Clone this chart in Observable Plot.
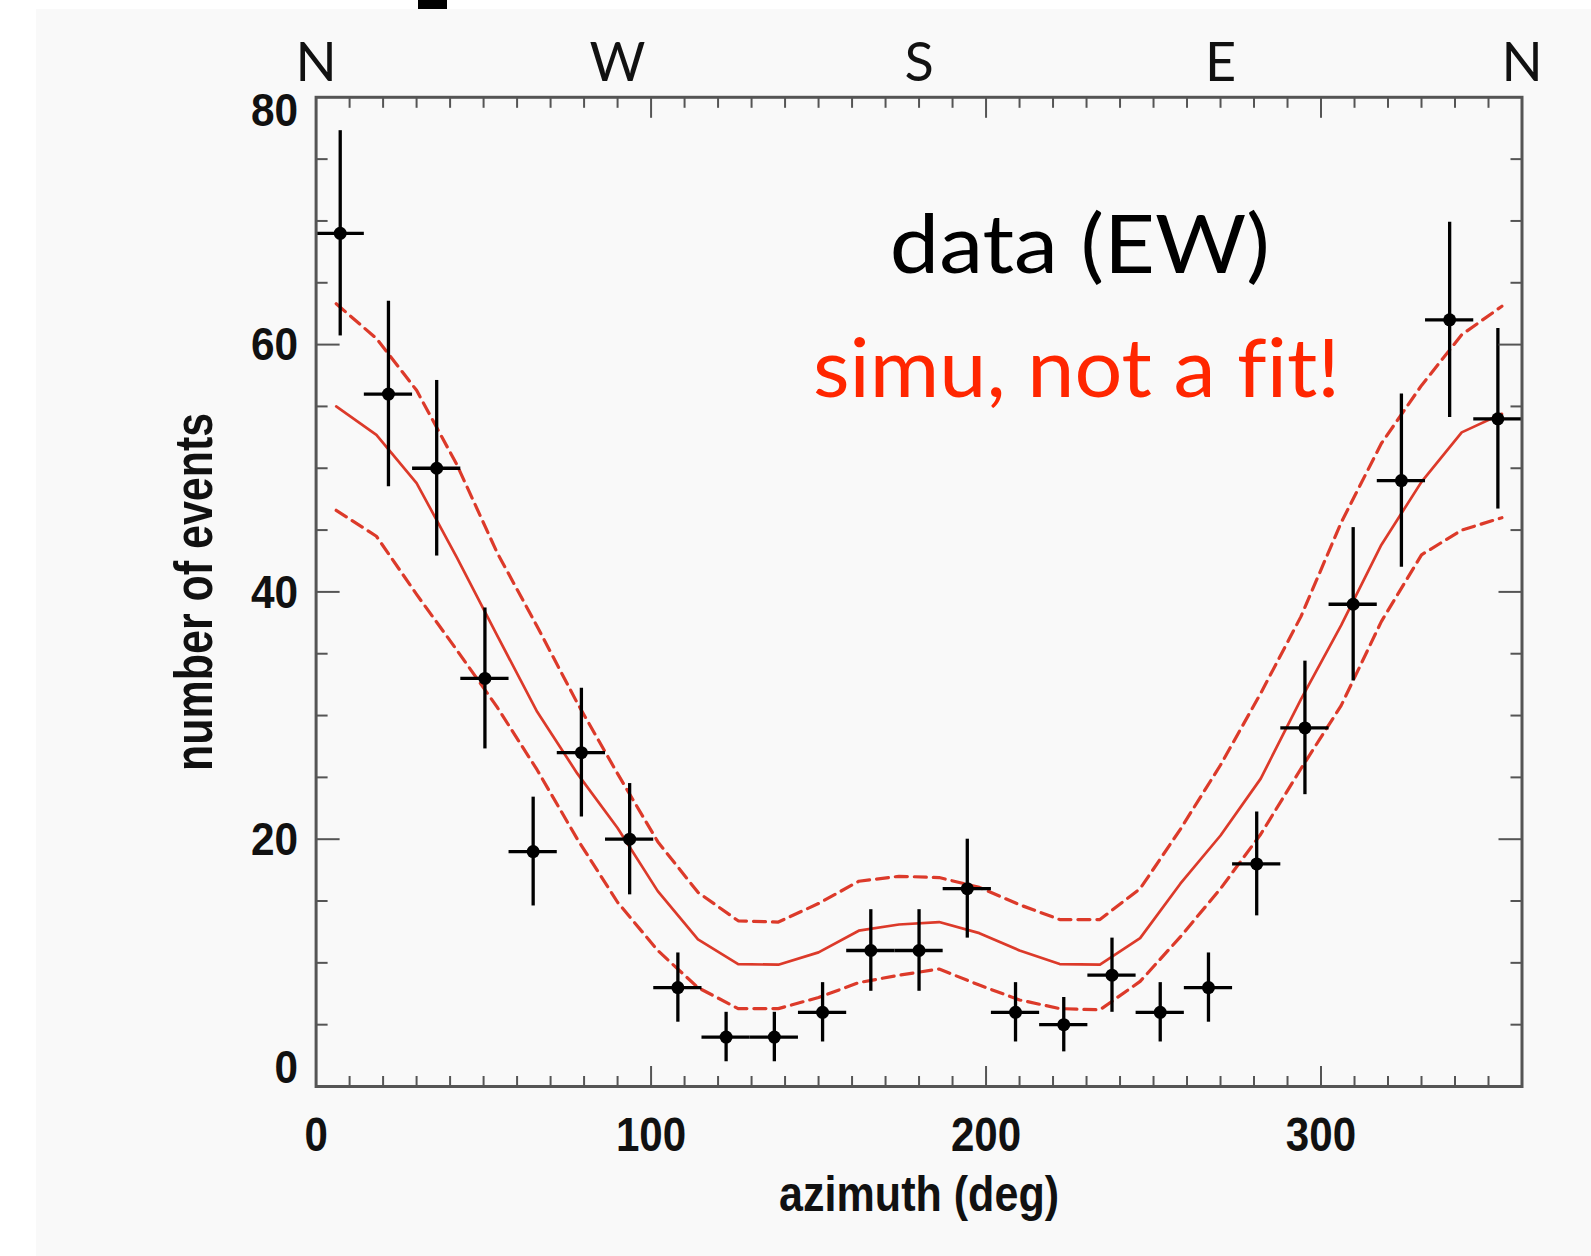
<!DOCTYPE html>
<html>
<head>
<meta charset="utf-8">
<script src="https://cdn.jsdelivr.net/npm/d3@7"></script>
<script src="https://cdn.jsdelivr.net/npm/@observablehq/plot@0.6"></script>
<style>
  html, body { margin: 0; padding: 0; background: #ffffff; }
  #wrap { position: relative; width: 1591px; height: 1256px; overflow: hidden; background: #ffffff; }
  #panel { position: absolute; left: 36px; top: 9px; right: 0; bottom: 0; background: #f9f9f9; }
  #tab { position: absolute; left: 418px; top: 0; width: 29px; height: 9px; background: #000; }
  #chart { position: absolute; left: 0; top: 0; }
  #chart svg text { font-variant-ligatures: none; }
</style>
</head>
<body>
<div id="wrap"><div id="panel"></div><div id="tab"></div><div id="chart"></div></div>
<script>
// ---- measured data (EW) ----
const azimuth = [7.2, 21.6, 36, 50.4, 64.8, 79.2, 93.6, 108, 122.4, 136.8, 151.2, 165.6, 180,
                 194.4, 208.8, 223.2, 237.6, 252, 266.4, 280.8, 295.2, 309.6, 324, 338.4, 352.8];
const events = [69, 56, 50, 33, 19, 27, 20, 8, 4, 4, 6, 11, 11, 16, 6, 5, 9, 6, 8, 18, 29, 39, 49, 62, 54];
const eventErr = [8.3, 7.5, 7.1, 5.7, 4.4, 5.2, 4.5, 2.8, 2.0, 2.0, 2.4, 3.3, 3.3, 4.0, 2.4, 2.2, 3.0,
                  2.4, 2.8, 4.2, 5.4, 6.2, 7.0, 7.9, 7.3];
const binHalfWidth = 7.2;

// ---- simulation (mean and band) ----
const simAzimuth = [6, 18, 30, 42, 54, 66, 78, 90, 102, 114, 126, 138, 150, 162, 174, 186, 198, 210,
                    222, 234, 246, 258, 270, 282, 294, 306, 318, 330, 342, 354];
const simMean = [55.0, 52.7, 48.8, 42.8, 36.5, 30.3, 25.3, 20.9, 15.8, 11.9, 9.9, 9.85, 10.85, 12.6, 13.1,
                 13.3, 12.4, 11.0, 9.9, 9.85, 12.0, 16.4, 20.3, 24.9, 31.3, 37.3, 43.8, 48.9, 52.9, 54.4];
const simUpper = [63.3, 60.5, 56.3, 50.3, 43.2, 37.2, 31.0, 25.3, 19.8, 15.7, 13.4, 13.3, 14.8, 16.6, 17.0,
                  16.9, 16.1, 14.7, 13.5, 13.5, 16.0, 20.8, 26.0, 31.8, 38.0, 45.6, 52.0, 56.7, 60.8, 63.1];
const simLower = [46.6, 44.5, 39.8, 35.3, 30.7, 25.6, 20.0, 14.9, 11.0, 8.0, 6.3, 6.3, 7.2, 8.4, 9.0,
                  9.5, 8.2, 7.0, 6.3, 6.2, 8.5, 12.1, 16.0, 20.4, 25.7, 30.8, 37.6, 43.0, 45.0, 46.0];

// ---- ticks and labels ----
const xMinorTicks = [10, 20, 30, 40, 50, 60, 70, 80, 90, 110, 120, 130, 140, 150, 160, 170, 180, 190,
                     210, 220, 230, 240, 250, 260, 270, 280, 290, 310, 320, 330, 340, 350];
const xMajorTicks = [100, 200, 300];
const xTickLabels = [0, 100, 200, 300];
const yMinorTicks = [5, 10, 15, 25, 30, 35, 45, 50, 55, 65, 70, 75];
const yMajorTicks = [20, 40, 60];
const compassAzimuth = [0, 90, 180, 270, 360];
const compassLabels = ["N", "W", "S", "E", "N"];
const xTitle = "azimuth (deg)";
const yTitle = "number of events";
const annotations = [
  {label: "data (EW)", x: 228, y: 67.9},
  {label: "simu, not a fit!", x: 227, y: 57.9}
];

const points = azimuth.map((x, i) => ({x, y: events[i], err: eventErr[i]}));
const sim = simAzimuth.map((x, i) => ({x, mean: simMean[i], upper: simUpper[i], lower: simLower[i]}));
const compassMap = new Map(compassAzimuth.map((d, i) => [d, compassLabels[i]]));

const numFont = "'Liberation Sans', Arial, sans-serif";
const humanist = "Lato, 'Open Sans', sans-serif";
const axisGray = "#555555";
const red = "#dc3a2a";
const tickOpts = {stroke: axisGray, strokeWidth: 2, tickFormat: () => "", label: null};
const labelOpts = {tickSize: 0, fontFamily: numFont, fontWeight: "bold", fill: "#111111", label: null};

const chart = Plot.plot({
  width: 1591,
  height: 1256,
  marginLeft: 315.6,
  marginRight: 69.5,
  marginTop: 96.8,
  marginBottom: 170,
  x: {domain: [0, 360]},
  y: {domain: [0, 80]},
  style: {background: "transparent", overflow: "visible"},
  marks: [
    // simulation curves
    Plot.line(sim, {x: "x", y: "upper", stroke: red, strokeWidth: 3.2, strokeDasharray: "12,7"}),
    Plot.line(sim, {x: "x", y: "lower", stroke: red, strokeWidth: 3.2, strokeDasharray: "12,7"}),
    Plot.line(sim, {x: "x", y: "mean", stroke: red, strokeWidth: 2.7}),
    // data with error bars
    Plot.ruleX(points, {x: "x", y1: d => d.y - d.err, y2: d => d.y + d.err, stroke: "#000", strokeWidth: 3.3}),
    Plot.ruleY(points, {y: "y", x1: d => d.x - binHalfWidth, x2: d => d.x + binHalfWidth, stroke: "#000", strokeWidth: 3.3}),
    Plot.dot(points, {x: "x", y: "y", r: 6.5, fill: "#000"}),
    // inward ticks on all four sides
    Plot.axisX({ticks: xMinorTicks, anchor: "bottom", tickSize: 10, dy: -10, ...tickOpts}),
    Plot.axisX({ticks: xMajorTicks, anchor: "bottom", tickSize: 20, dy: -20, ...tickOpts}),
    Plot.axisX({ticks: xMinorTicks, anchor: "top", tickSize: 10, dy: 10, ...tickOpts}),
    Plot.axisX({ticks: xMajorTicks, anchor: "top", tickSize: 20, dy: 20, ...tickOpts}),
    Plot.axisY({ticks: yMinorTicks, anchor: "left", tickSize: 12, dx: 12, ...tickOpts}),
    Plot.axisY({ticks: yMajorTicks, anchor: "left", tickSize: 24, dx: 24, ...tickOpts}),
    Plot.axisY({ticks: yMinorTicks, anchor: "right", tickSize: 12, dx: -12, ...tickOpts}),
    Plot.axisY({ticks: yMajorTicks, anchor: "right", tickSize: 24, dx: -24, ...tickOpts}),
    // tick labels
    Plot.axisX({ticks: xTickLabels, anchor: "bottom", tickPadding: 30, fontSize: 49, ...labelOpts}),
    Plot.axisY({ticks: yMajorTicks, anchor: "left", tickPadding: 18, fontSize: 46, dy: 1, ...labelOpts}),
    Plot.axisY({ticks: [80], anchor: "left", tickPadding: 18, fontSize: 46, dy: 13.6, ...labelOpts}),
    Plot.axisY({ticks: [0], anchor: "left", tickPadding: 18, fontSize: 46, dy: -18, ...labelOpts}),
    Plot.axisX({ticks: compassAzimuth, anchor: "top", tickSize: 0, tickPadding: 16, tickFormat: d => compassMap.get(d),
                fontSize: 54, fontFamily: humanist, fill: "#111111", label: null}),
    // axis titles
    Plot.text([yTitle], {text: d => d, frameAnchor: "left", textAnchor: "middle", rotate: -90, dx: -121, fontSize: 54,
                         fontFamily: numFont, fontWeight: "bold", fill: "#111111"}),
    Plot.text([xTitle], {text: d => d, frameAnchor: "bottom", dy: 124, fontSize: 50,
                         fontFamily: numFont, fontWeight: "bold", fill: "#111111"}),
    // annotations
    Plot.text([annotations[0]], {x: "x", y: "y", text: "label", fontSize: 82, fontFamily: humanist, fill: "#000000"}),
    Plot.text([annotations[1]], {x: "x", y: "y", text: "label", fontSize: 82, fontFamily: humanist, fill: "#ff2600"}),
    Plot.frame({stroke: axisGray, strokeWidth: 3})
  ]
});
document.getElementById("chart").appendChild(chart);

// Condense the Helvetica-Narrow-like texts and widen the Gill-Sans-like ones
const targetLengths = new Map([
  [yTitle, 358], [xTitle, 280], [annotations[0].label, 380], [annotations[1].label, 527]
]);
const xLabelSet = new Set(xTickLabels.map(String));
chart.querySelectorAll("text").forEach(t => {
  const s = t.textContent;
  if (!s) return;
  const g = t.closest("g[font-family]");
  const fam = g ? g.getAttribute("font-family") : "";
  const axisGroup = t.closest("g[aria-label]");
  const isX = axisGroup && axisGroup.getAttribute("aria-label").startsWith("x-axis");
  let target = null;
  if (targetLengths.has(s)) target = targetLengths.get(s);
  else if (fam.includes("Liberation")) target = t.getComputedTextLength() * (isX && xLabelSet.has(s) ? 0.86 : 0.92);
  if (target) {
    t.setAttribute("textLength", target.toFixed(1));
    t.setAttribute("lengthAdjust", "spacingAndGlyphs");
  }
});
</script>
</body>
</html>
